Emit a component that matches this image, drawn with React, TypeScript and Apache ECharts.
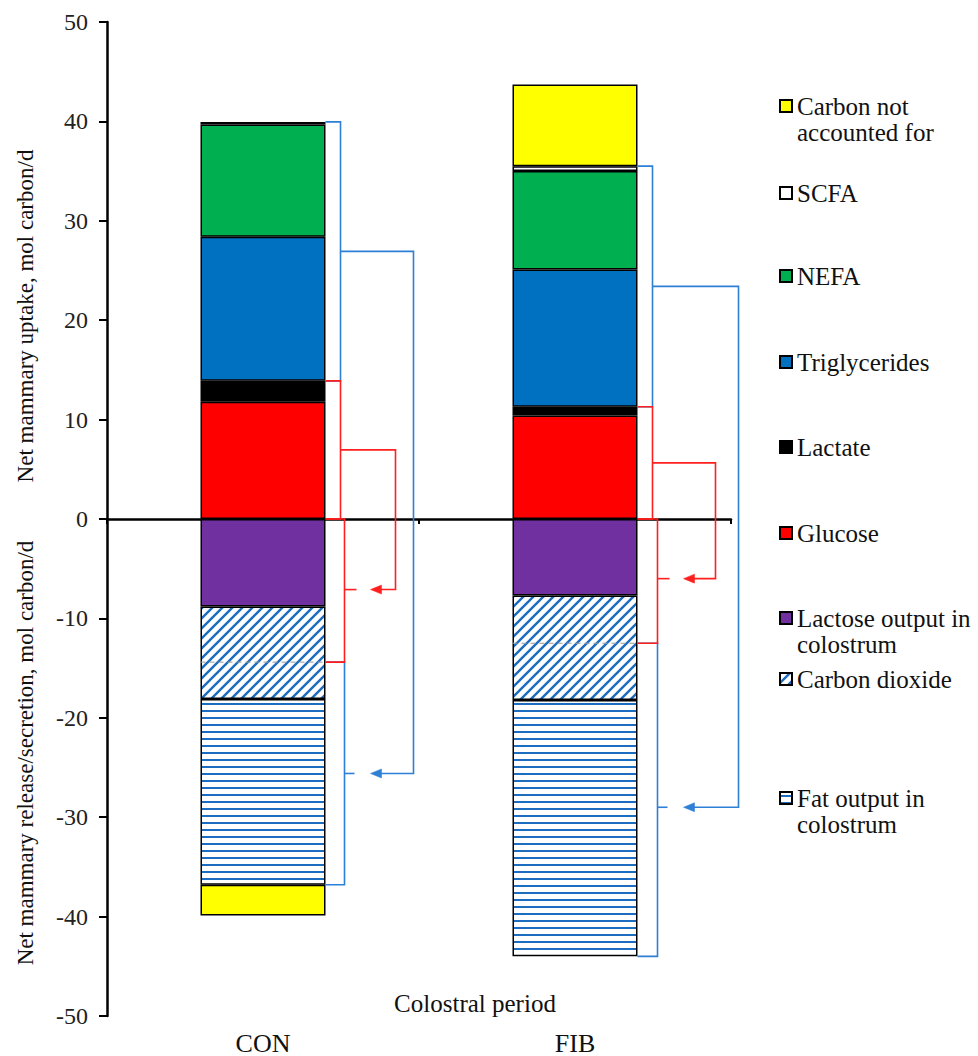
import React, { useEffect, useRef } from "react";
import * as echarts from "echarts";

// ---------- data (mol carbon/d) ----------
const categories = ["CON", "FIB"];
const glucose = [11.8, 10.4];
const lactate = [2.1, 0.9];
const triglycerides = [14.5, 13.8];
const nefa = [11.3, 9.9];
const scfa = [0.25, 0.5];
const lactoseOutput = [-8.8, -7.7];
const carbonDioxide = [-9.3, -10.5];
const fatOutput = [-18.7, -25.8];
const carbonNotAccounted = [-3.1, 8.2];
// bracket annotation values
const co2Split = [-14.4, -12.5];
const redArrowAt = [-7.1, -6.0];
const blueArrowAt = [-25.6, -29.0];
const yTicks = { min: -50, max: 50, interval: 10 };

// ---------- layout / style ----------
const FONT = "Liberation Serif, Times New Roman, serif";
const BAR_W = 125;
const BRACKET_LAYOUT = [
  { upX: 15, lowX: 19, farRed: 70, farBlue: 88 },
  { upX: 15, lowX: 20, farRed: 78, farBlue: 101 },
];
const RED = "#ff1f1f";
const BLUE = "#2e7fd6";

const LEGEND_ITEMS = [
  { name: "Carbon not accounted for", label: "Carbon not\naccounted for", y: 106, multi: true },
  { name: "SCFA", label: "SCFA", y: 193, multi: false },
  { name: "NEFA", label: "NEFA", y: 276, multi: false },
  { name: "Triglycerides", label: "Triglycerides", y: 362, multi: false },
  { name: "Lactate", label: "Lactate", y: 447, multi: false },
  { name: "Glucose", label: "Glucose", y: 533, multi: false },
  { name: "Lactose output in colostrum", label: "Lactose output in\ncolostrum", y: 618, multi: true },
  { name: "Carbon dioxide", label: "Carbon dioxide", y: 679, multi: false },
  { name: "Fat output in colostrum", label: "Fat output in\ncolostrum", y: 798, multi: true },
];

function diagPattern() {
  const s = 10;
  const c = document.createElement("canvas");
  c.width = s;
  c.height = s;
  const g = c.getContext("2d")!;
  g.fillStyle = "#ffffff";
  g.fillRect(0, 0, s, s);
  g.strokeStyle = "#1c6cc0";
  g.lineWidth = 2.4;
  g.beginPath();
  g.moveTo(-1, s + 1);
  g.lineTo(s + 1, -1);
  g.moveTo(-2, 2);
  g.lineTo(2, -2);
  g.moveTo(s - 2, s + 2);
  g.lineTo(s + 2, s - 2);
  g.stroke();
  return { image: c, repeat: "repeat", imageWidth: s, imageHeight: s };
}

function horizPattern() {
  const w = 10;
  const h = 7;
  const c = document.createElement("canvas");
  c.width = w;
  c.height = h;
  const g = c.getContext("2d")!;
  g.fillStyle = "#ffffff";
  g.fillRect(0, 0, w, h);
  g.fillStyle = "#1c6cc0";
  g.fillRect(0, 3, w, 2);
  return { image: c, repeat: "repeat", imageWidth: w, imageHeight: h };
}

export default function App() {
  const ref = useRef<HTMLDivElement>(null);

  useEffect(() => {
    if (!ref.current) return;
    const chart = echarts.init(ref.current, undefined, { renderer: "svg" });

    const border = { borderColor: "#000", borderWidth: 1.5 };
    const bar = (name: string, data: number[], color: any) => ({
      name,
      type: "bar",
      stack: "total",
      barWidth: BAR_W,
      data,
      itemStyle: { color, ...border },
      xAxisIndex: 0,
      yAxisIndex: 0,
    });

    const renderItem = (params: any, api: any) => {
      const i = params.dataIndex;
      const lay = BRACKET_LAYOUT[i];
      const cx = api.coord([i, 0])[0];
      const R = cx + BAR_W / 2;
      const L = cx - BAR_W / 2;
      const y = (v: number) => api.coord([i, v])[1];
      const ub = glucose[i] + lactate[i];
      const ut = ub + triglycerides[i] + nefa[i] + scfa[i];
      const split = co2Split[i];
      const lb = lactoseOutput[i] + carbonDioxide[i] + fatOutput[i];
      const ux = R + lay.upX;
      const lx = R + lay.lowX;
      const tip = lx + 26;
      const lw = 1.6;
      const pl = (points: number[][], color: string) => ({
        type: "polyline",
        shape: { points },
        style: { stroke: color, lineWidth: lw, fill: "none" },
      });
      const arrow = (yy: number, color: string) => ({
        type: "polygon",
        shape: { points: [[tip, yy], [tip + 11, yy - 4.5], [tip + 11, yy + 4.5]] },
        style: { fill: color, stroke: color, lineWidth: 0.5 },
      });
      const ra = y(redArrowAt[i]);
      const ba = y(blueArrowAt[i]);
      const children: any[] = [
        {
          type: "line",
          shape: { x1: L, y1: y(split), x2: R, y2: y(split) },
          style: { stroke: "#9a9a9a", lineWidth: 1, lineDash: [5, 4] },
        },
        // blue brackets
        pl([[R, y(ut)], [ux, y(ut)], [ux, y(ub)], [R, y(ub)]], BLUE),
        pl([[R, y(split)], [lx, y(split)], [lx, y(lb)], [R, y(lb)]], BLUE),
        pl([[ux, y((ut + ub) / 2)], [R + lay.farBlue, y((ut + ub) / 2)], [R + lay.farBlue, ba], [tip + 5, ba]], BLUE),
        arrow(ba, BLUE),
        pl([[lx, ba], [lx + 10, ba]], BLUE),
        // red brackets
        pl([[R, y(ub)], [ux, y(ub)], [ux, y(0)], [R, y(0)]], RED),
        pl([[R, y(0)], [lx, y(0)], [lx, y(split)], [R, y(split)]], RED),
        pl([[ux, y(ub / 2)], [R + lay.farRed, y(ub / 2)], [R + lay.farRed, ra], [tip + 5, ra]], RED),
        arrow(ra, RED),
        pl([[lx, ra], [lx + 12, ra]], RED),
      ];
      return { type: "group", children };
    };

    // multi-line items: a blank line above keeps the icon level with the first line
    const legends = LEGEND_ITEMS.map((it) => ({
      data: [it.name],
      left: 779,
      top: it.multi ? it.y - 39 : it.y - 13,
      orient: "vertical",
      padding: 0,
      itemGap: 0,
      itemWidth: 12,
      itemHeight: 12,
      icon: "rect",
      selectedMode: false,
      formatter: () => (it.multi ? " \n" + it.label : it.label),
      textStyle: {
        fontFamily: FONT,
        fontSize: 25,
        lineHeight: 26,
        color: "#111",
      },
    }));

    const option: any = {
      animation: false,
      backgroundColor: "#ffffff",
      textStyle: { fontFamily: FONT },
      grid: { left: 107, right: 247, top: 22, bottom: 38, containLabel: false },
      legend: legends,
      xAxis: [
        {
          type: "category",
          data: categories,
          position: "bottom",
          axisLine: { show: true, onZero: true, lineStyle: { color: "#000", width: 2.5 } },
          axisTick: { show: true, length: 5, lineStyle: { color: "#000", width: 2 } },
          axisLabel: { show: false },
          splitLine: { show: false },
        },
        {
          type: "category",
          data: categories,
          position: "bottom",
          axisLine: { show: false, onZero: false },
          axisTick: { show: false },
          axisLabel: { show: true, fontFamily: FONT, fontSize: 26, color: "#111", margin: 14 },
          splitLine: { show: false },
        },
      ],
      yAxis: {
        type: "value",
        min: yTicks.min,
        max: yTicks.max,
        interval: yTicks.interval,
        axisLine: { show: true, lineStyle: { color: "#000", width: 2.5 } },
        axisTick: { show: true, length: 8, lineStyle: { color: "#000", width: 2 } },
        axisLabel: { fontFamily: FONT, fontSize: 24, color: "#222", margin: 19 },
        splitLine: { show: false },
      },
      graphic: [
        {
          type: "text",
          x: 475,
          y: 1003,
          style: { text: "Colostral period", fontFamily: FONT, fontSize: 25, fill: "#111", align: "center", verticalAlign: "middle" },
        },
        {
          type: "text",
          x: 25,
          y: 316,
          rotation: Math.PI / 2,
          style: { text: "Net mammary uptake, mol carbon/d", fontFamily: FONT, fontSize: 23, fill: "#111", align: "center", verticalAlign: "middle" },
        },
        {
          type: "text",
          x: 25,
          y: 753,
          rotation: Math.PI / 2,
          style: { text: "Net mammary release/secretion, mol carbon/d", fontFamily: FONT, fontSize: 23, fill: "#111", align: "center", verticalAlign: "middle" },
        },
      ],
      series: [
        bar("Glucose", glucose, "#ff0000"),
        bar("Lactate", lactate, "#000000"),
        bar("Triglycerides", triglycerides, "#0070c0"),
        bar("NEFA", nefa, "#00b050"),
        bar("SCFA", scfa, "#ffffff"),
        bar("Lactose output in colostrum", lactoseOutput, "#7030a0"),
        bar("Carbon dioxide", carbonDioxide, diagPattern()),
        bar("Fat output in colostrum", fatOutput, horizPattern()),
        bar("Carbon not accounted for", carbonNotAccounted, "#ffff00"),
        {
          name: "brackets",
          type: "custom",
          xAxisIndex: 0,
          yAxisIndex: 0,
          silent: true,
          clip: false,
          z: 5,
          data: categories.map((_, i) => [i, 0]),
          encode: { x: 0, y: 1 },
          renderItem,
        },
      ],
    };

    chart.setOption(option);
    return () => chart.dispose();
  }, []);

  return (
    <div
      ref={ref}
      style={{ position: "absolute", left: 0, top: 0, width: 978, height: 1056, background: "#fff" }}
    />
  );
}
